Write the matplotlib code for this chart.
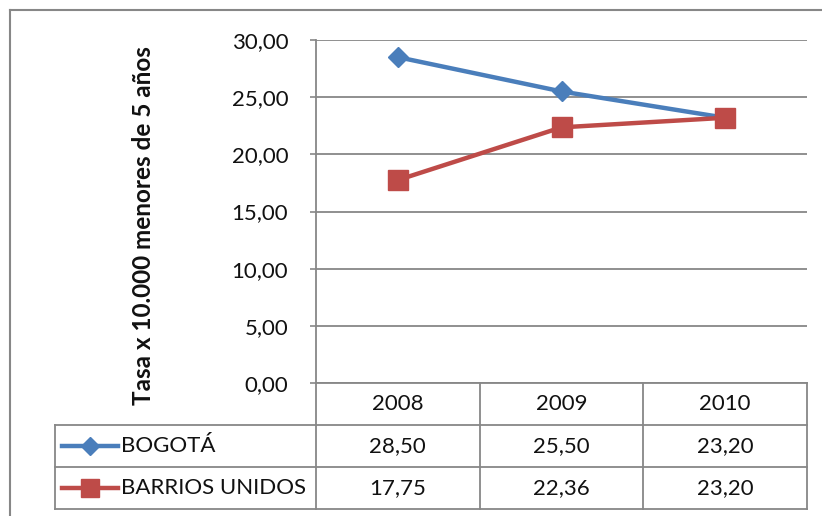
import matplotlib
matplotlib.use("Agg")
import matplotlib.pyplot as plt
from matplotlib.lines import Line2D

years = ['2008', '2009', '2010']
series_names = ['BOGOTÁ', 'BARRIOS UNIDOS']
bogota = [28.50, 25.50, 23.20]
barrios = [17.75, 22.36, 23.20]
yticks = [0, 5, 10, 15, 20, 25, 30]
ylabel = 'Tasa x 10.000 menores de 5 años'

BLUE = '#4A7EBB'
RED = '#BE4B48'
GRID = '#878787'
TXT = '#111111'
FONT = 'Lato'
FS = 16


def fmt(v):
    return f"{v:.2f}".replace('.', ',')


W, H = 822, 516
fig = plt.figure(figsize=(W / 100, H / 100), dpi=100)
plt.rcParams['font.family'] = [FONT, 'DejaVu Sans']

# outer chart border
fig.add_artist(Line2D([10 / W, 10 / W], [0, 1 - 10 / H], transform=fig.transFigure, color=GRID, lw=1.5))
fig.add_artist(Line2D([10 / W, 1], [1 - 10 / H, 1 - 10 / H], transform=fig.transFigure, color=GRID, lw=1.5))

ax = fig.add_axes([316 / W, 1 - 383 / H, 491 / W, 343 / H])
x = list(range(len(years)))
ax.plot(x, bogota, color=BLUE, lw=3.2, marker='D', ms=10.5, zorder=3, clip_on=False)
ax.plot(x, barrios, color=RED, lw=3.2, marker='s', ms=14.5, zorder=3, clip_on=False)
ax.set_xlim(-0.5, len(years) - 0.5)
ax.set_ylim(0, 30)
ax.set_yticks(yticks)
ax.set_yticklabels([fmt(v) for v in yticks], fontsize=FS, color=TXT)
ax.set_xticks([])
ax.tick_params(axis='y', length=4, color=GRID, width=1.2, pad=16)
ax.grid(axis='y', color=GRID, lw=1.3)
ax.set_axisbelow(True)
for s in ['top', 'right', 'bottom']:
    ax.spines[s].set_visible(False)
ax.spines['left'].set_color(GRID)
ax.spines['left'].set_linewidth(1.3)

fig.text(143 / W, 1 - 226 / H, ylabel, rotation=90, ha='center', va='center',
         fontsize=17.5, fontweight='bold', color=TXT)

# data table below the plot
rh = 42 / 343
xl = (55 - 316) / 491
n = len(years)
kw = dict(transform=ax.transAxes, color=GRID, lw=1.3, clip_on=False)
for i in range(n + 1):
    ax.add_line(Line2D([i / n, i / n], [0, -3 * rh], **kw))
ax.add_line(Line2D([xl, xl], [-rh, -3 * rh], **kw))
for k in (1, 2, 3):
    ax.add_line(Line2D([xl, 1], [-k * rh, -k * rh], **kw))
ax.add_line(Line2D([0, 1], [0, 0], **kw))

for i, yr in enumerate(years):
    ax.text((i + 0.5) / n, -0.5 * rh, yr, transform=ax.transAxes, ha='center', va='center',
            fontsize=FS, color=TXT)

rows = [(series_names[0], bogota, BLUE, 'D', 9.5), (series_names[1], barrios, RED, 's', 13)]
for r, (name, vals, col, mk, ms) in enumerate(rows):
    yc = -(r + 1.5) * rh
    x0 = (62 - 316) / 491
    x1 = (118 - 316) / 491
    ax.add_line(Line2D([x0, x1], [yc, yc], transform=ax.transAxes, color=col, lw=3.2, clip_on=False))
    ax.add_line(Line2D([(x0 + x1) / 2], [yc], transform=ax.transAxes, color=col, marker=mk, ms=ms,
                       lw=0, clip_on=False))
    ax.text((121 - 316) / 491, yc, name, transform=ax.transAxes, ha='left', va='center',
            fontsize=FS, color=TXT)
    for i, v in enumerate(vals):
        ax.text((i + 0.5) / n, yc, fmt(v), transform=ax.transAxes, ha='center', va='center',
                fontsize=FS, color=TXT)

fig.savefig('out.png', dpi=100)
